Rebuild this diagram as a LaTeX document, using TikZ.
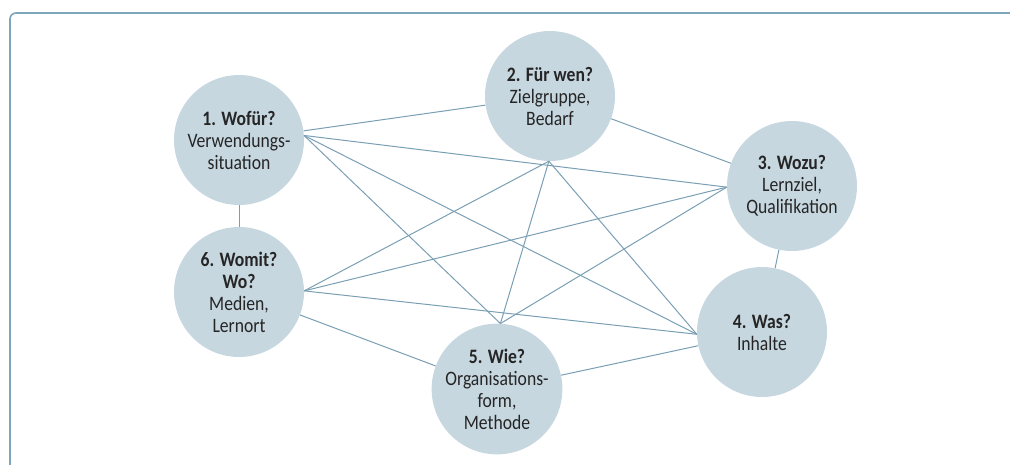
\documentclass[tikz,border=0pt]{standalone}
\usepackage{fontspec}
\setmainfont{Carlito}[FakeStretch=0.86]
\definecolor{circfill}{HTML}{C7D7E0}
\definecolor{linecol}{HTML}{7A9FB3}
\definecolor{framecol}{HTML}{7EA6BA}
\definecolor{txtcol}{HTML}{252525}
\begin{document}
\begin{tikzpicture}[x=1pt,y=-1pt,
  topic/.style={circle,fill=circfill,minimum size=130pt,inner sep=0pt,align=center,
    text=txtcol,font=\fontsize{20.5}{22}\selectfont},
  link/.style={draw=linecol,line width=1pt}]
\useasboundingbox (0,0) rectangle (1010,464);
\draw[framecol,line width=1.6pt,rounded corners=6pt] (10,470) -- (10,13) -- (1015,13);
\node[topic] (c1) at (239,140) {\textbf{1. Wofür?}\\Verwendungs-\\situation};
\node[topic] (c2) at (550,96) {\textbf{2. Für wen?}\\Zielgruppe,\\Bedarf};
\node[topic] (c3) at (792,186) {\textbf{3. Wozu?}\\Lernziel,\\Qualifikation};
\node[topic] (c4) at (762,332) {\textbf{4. Was?}\\Inhalte};
\node[topic] (c5) at (497,389) {\textbf{5. Wie?}\\Organisations-\\form,\\Methode};
\node[topic] (c6) at (239,292) {\textbf{6. Womit?}\\\textbf{Wo?}\\Medien,\\Lernort};
\coordinate (h1) at (c1.4);
\coordinate (h2) at (c2.-91);
\coordinate (h3) at (c3.181);
\coordinate (h4) at (c4.182);
\coordinate (h5) at (c5.87);
\coordinate (h6) at (c6.1);
% ring
\draw[link] (c1) -- (c2);
\draw[link] (c2) -- (c3);
\draw[link] (c3) -- (c4);
\draw[link] (c4) -- (c5);
\draw[link] (c5) -- (c6);
\draw[link] (c6) -- (c1);
% cross
\draw[link] (h1) -- (h3);
\draw[link] (h1) -- (h4);
\draw[link] (h1) -- (h5);
\draw[link] (h2) -- (h4);
\draw[link] (h2) -- (h5);
\draw[link] (h2) -- (h6);
\draw[link] (h3) -- (h5);
\draw[link] (h3) -- (h6);
\draw[link] (h4) -- (h6);
\end{tikzpicture}
\end{document}
